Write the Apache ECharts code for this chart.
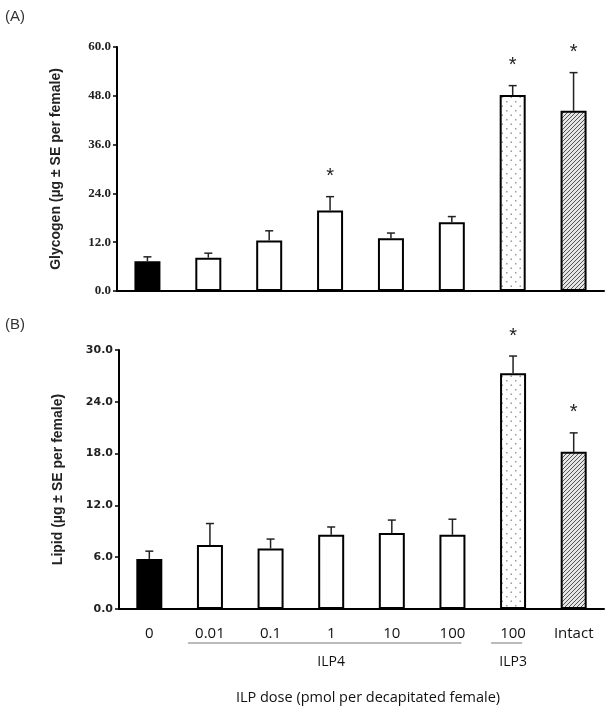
<!DOCTYPE html>
<html><head><meta charset="utf-8">
<script src="https://cdn.jsdelivr.net/npm/echarts@6/dist/echarts.min.js"></script>
<style>html,body{margin:0;padding:0;background:#fff}#c{width:613px;height:713px}</style>
</head><body><div id="c"></div>
<script>
// ---- data ----
const categories = ['0', '0.01', '0.1', '1', '10', '100 ILP4', '100 ILP3', 'Intact'];
const tickLabels = ['0', '0.01', '0.1', '1', '10', '100', '100', 'Intact'];
const glycogenMean = [7.3, 8.2, 12.4, 19.8, 13.0, 16.9, 48.2, 44.3];
const glycogenSE   = [1.1, 1.1, 2.4, 3.4, 1.25, 1.4, 2.3, 9.4];
const glycogenSig  = [0, 0, 0, 1, 0, 0, 1, 1];
const lipidMean = [5.8, 7.4, 7.0, 8.6, 8.8, 8.6, 27.3, 18.2];
const lipidSE   = [0.9, 2.5, 1.1, 0.9, 1.5, 1.8, 2.0, 2.2];
const lipidSig  = [0, 0, 0, 0, 0, 0, 1, 1];
const glycogenTicks = [0, 12, 24, 36, 48, 60];
const lipidTicks = [0, 6, 12, 18, 24, 30];
const groups = [{text: 'ILP4', from: 1, to: 5}, {text: 'ILP3', from: 6, to: 6}];

// ---- styles ----
function dotPattern() {
  const c = document.createElement('canvas'); c.width = 9; c.height = 9;
  const g = c.getContext('2d');
  g.fillStyle = '#fff'; g.fillRect(0, 0, 9, 9);
  g.fillStyle = '#9a9a9a'; g.fillRect(2, 2, 1.5, 1.5); g.fillRect(6.5, 6.5, 1.5, 1.5);
  return c;
}
function hatchPattern() {
  const c = document.createElement('canvas'); c.width = 4; c.height = 4;
  const g = c.getContext('2d');
  g.fillStyle = '#e4e4e4'; g.fillRect(0, 0, 4, 4);
  g.strokeStyle = '#555'; g.lineWidth = 1;
  g.beginPath();
  g.moveTo(0, 4); g.lineTo(4, 0);
  g.moveTo(-1, 1); g.lineTo(1, -1);
  g.moveTo(3, 5); g.lineTo(5, 3);
  g.stroke();
  return c;
}
const fills = ['#000', '#fff', '#fff', '#fff', '#fff', '#fff',
  {image: dotPattern(), repeat: 'repeat'}, {image: hatchPattern(), repeat: 'repeat'}];

const chart = echarts.init(document.getElementById('c'), null, {renderer: 'canvas'});

function barData(vals) {
  return vals.map((v, i) => ({value: v, itemStyle: {color: fills[i]}}));
}
function errData(mean, se, sig) {
  return mean.map((m, i) => [i, m, se[i], sig[i]]);
}
function errRender(params, api) {
  const x = api.value(0), m = api.value(1), se = api.value(2), sig = api.value(3);
  const p0 = api.coord([x, m]);
  const p1 = api.coord([x, m + se]);
  const children = [
    {type: 'line', shape: {x1: p0[0], y1: p0[1], x2: p1[0], y2: p1[1]}, style: {stroke: '#222', lineWidth: 1.5}},
    {type: 'line', shape: {x1: p1[0] - 4, y1: p1[1], x2: p1[0] + 4, y2: p1[1]}, style: {stroke: '#222', lineWidth: 1.5}}
  ];
  if (sig) children.push({type: 'text', x: p1[0], y: p1[1] - 20,
    style: {text: '*', fill: '#222', font: '20px "Liberation Sans"', align: 'center', verticalAlign: 'middle'}});
  return {type: 'group', children};
}

const axisLineStyle = {show: true, lineStyle: {color: '#000', width: 2}};

function yAxis(gridIndex, name, ticks, labelFont) {
  return {
    type: 'value', gridIndex, min: ticks[0], max: ticks[ticks.length - 1],
    interval: ticks[1] - ticks[0],
    name, nameLocation: 'middle', nameGap: 54,
    nameTextStyle: {fontFamily: 'Liberation Sans', fontWeight: 'bold', fontSize: 14, color: '#222'},
    axisLine: axisLineStyle,
    axisTick: {show: true, length: 4, lineStyle: {color: '#000', width: 1.5}},
    axisLabel: Object.assign({formatter: v => v.toFixed(1), color: '#222', margin: 6}, labelFont),
    splitLine: {show: false}
  };
}

chart.setOption({
  animation: false,
  backgroundColor: '#fff',
  grid: [
    {left: 117, right: 9, top: 47, height: 244, outerBoundsMode: 'none'},
    {left: 119, right: 9, top: 350, height: 259, outerBoundsMode: 'none'}
  ],
  xAxis: [
    {type: 'category', gridIndex: 0, data: categories, axisLine: axisLineStyle,
     axisTick: {show: false}, axisLabel: {show: false}},
    {type: 'category', gridIndex: 1, data: categories, axisLine: axisLineStyle,
     axisTick: {show: false},
     axisLabel: {formatter: (v, i) => tickLabels[i], fontFamily: 'Open Sans', fontSize: 15, color: '#111', margin: 17},
     name: 'ILP dose (pmol per decapitated female)', nameLocation: 'middle', nameGap: 81,
     nameTextStyle: {fontFamily: 'Open Sans', fontSize: 14.5, color: '#111', padding: [0, 0, 0, 13]}}
  ],
  yAxis: [
    yAxis(0, 'Glycogen (µg ± SE per female)', glycogenTicks, {fontFamily: 'Liberation Serif', fontWeight: 'bold', fontSize: 13}),
    yAxis(1, 'Lipid (µg ± SE per female)', lipidTicks, {fontFamily: 'DejaVu Sans', fontWeight: 'bold', fontSize: 11})
  ],
  series: [
    {type: 'bar', xAxisIndex: 0, yAxisIndex: 0, data: barData(glycogenMean), barWidth: 26,
     itemStyle: {borderColor: '#000', borderWidth: 2}},
    {type: 'custom', xAxisIndex: 0, yAxisIndex: 0, data: errData(glycogenMean, glycogenSE, glycogenSig),
     renderItem: errRender, encode: {x: 0, y: 1}, z: 5},
    {type: 'bar', xAxisIndex: 1, yAxisIndex: 1, data: barData(lipidMean), barWidth: 26,
     itemStyle: {borderColor: '#000', borderWidth: 2}},
    {type: 'custom', xAxisIndex: 1, yAxisIndex: 1, data: errData(lipidMean, lipidSE, lipidSig),
     renderItem: errRender, encode: {x: 0, y: 1}, z: 5}
  ]
});

// group labels and underlines under panel B's axis
const g = [
  {type: 'text', left: 5, top: 9, style: {text: '(A)', font: '15px "Liberation Sans"', fill: '#333'}},
  {type: 'text', left: 5, top: 317, style: {text: '(B)', font: '15px "Liberation Sans"', fill: '#333'}}
];
const axisY = chart.convertToPixel({yAxisIndex: 1}, 0);
groups.forEach(gr => {
  const xa = chart.convertToPixel({xAxisIndex: 1}, gr.from);
  const xb = chart.convertToPixel({xAxisIndex: 1}, gr.to);
  g.push({type: 'line', shape: {x1: xa - 22, y1: axisY + 34, x2: xb + 9, y2: axisY + 34},
          style: {stroke: '#777', lineWidth: 1}});
  g.push({type: 'text', x: (xa + xb) / 2, y: axisY + 53,
          style: {text: gr.text, font: '14px "Open Sans"', fill: '#111', align: 'center', verticalAlign: 'middle'}});
});
chart.setOption({graphic: g});
</script>
</body></html>
